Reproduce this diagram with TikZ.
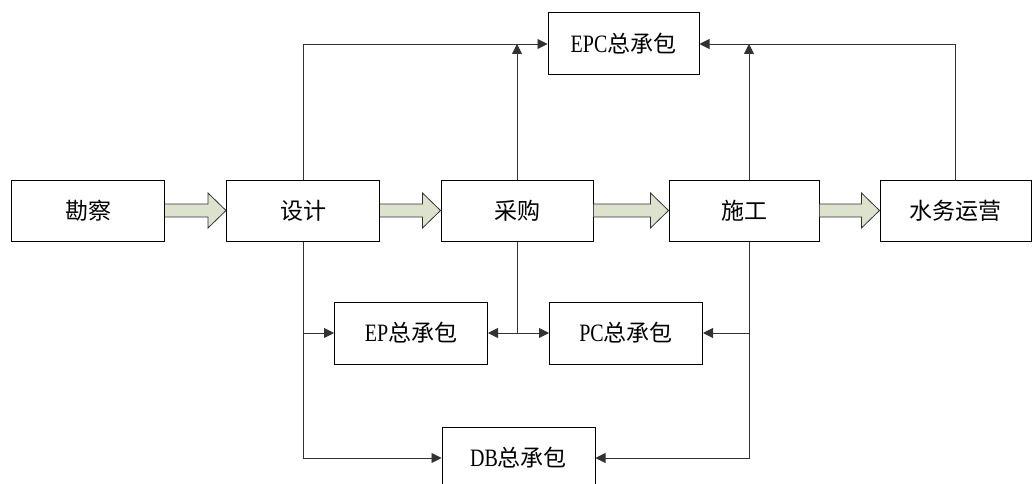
\documentclass[tikz,border=0pt]{standalone}
\usepackage{fontspec}
\setmainfont{Liberation Serif}[FakeStretch=0.8]
\newfontfamily\cjk{Noto Sans CJK SC}
\usetikzlibrary{arrows.meta,calc}
\definecolor{arrowfill}{RGB}{221,226,204}
\definecolor{linegray}{RGB}{50,50,50}
\tikzset{
  box/.style={draw=black, line width=1pt, minimum width=153pt, minimum height=61pt, inner sep=0pt, font=\fontsize{23}{27}\selectfont, fill=white},
  conn/.style={draw=linegray, line width=0.9pt},
  arr/.style={conn, -{Triangle[length=10pt,width=10pt]}},
  barrow/.style={draw=linegray, line width=0.8pt, fill=arrowfill, line join=miter}
}
\newcommand\lat[1]{{\fontsize{25}{27}\selectfont #1}}
\newcommand\blockarr[2]{%
  \draw[barrow] ($(#1.east)+(0,6.5)$) -- ($(#2.west)+(-18,6.5)$) -- ($(#2.west)+(-18,17.5)$) -- (#2.west) -- ($(#2.west)+(-18,-17.5)$) -- ($(#2.west)+(-18,-6.5)$) -- ($(#1.east)+(0,-6.5)$);}
\begin{document}
\begin{tikzpicture}[x=1pt,y=-1pt]
\useasboundingbox (0,0) rectangle (1033,484);
\node[box] (kc) at (88,210.5) {\cjk 勘察};
\node[box] (sj) at (303,210.5) {\cjk 设计};
\node[box, minimum width=152pt] (cg) at (517,210.5) {\cjk 采购};
\node[box, minimum width=150pt] (sg) at (744,210.5) {\cjk 施工};
\node[box, minimum width=151pt] (sw) at (955.5,210.5) {\cjk 水务运营};
\node[box, minimum width=151pt, minimum height=62pt] (epc) at (623.5,44) {\lat{EPC}{\cjk 总承包}};
\node[box, minimum height=62pt] (ep) at (411,333) {\lat{EP}{\cjk 总承包}};
\node[box, minimum height=62pt] (pc) at (626,333) {\lat{PC}{\cjk 总承包}};
\node[box, minimum height=62pt] (db) at (518.5,458) {\lat{DB}{\cjk 总承包}};

\blockarr{kc}{sj}
\blockarr{sj}{cg}
\blockarr{cg}{sg}
\blockarr{sg}{sw}

\coordinate (sgT) at ($(sg.north)+(5,0)$);
\coordinate (sgB) at ($(sg.south)+(5,0)$);

% upper connectors
\draw[arr] (sj.north) |- (epc.west);
\draw[arr] (cg.north) -- (cg.north |- epc.west);
\draw[arr] (sgT) -- (sgT |- epc.east);
\draw[arr] (sw.north) |- (epc.east);

% lower connectors
\draw[arr] (sj.south) |- (db.west);
\draw[arr] (sj.south |- ep.west) -- (ep.west);
\draw[conn] (cg.south) -- (cg.south |- ep.east);
\draw[arr] (cg.south |- ep.east) -- (ep.east);
\draw[arr] (cg.south |- pc.west) -- (pc.west);
\draw[arr] (sgB) |- (db.east);
\draw[arr] (sgB |- pc.east) -- (pc.east);
\end{tikzpicture}
\end{document}
